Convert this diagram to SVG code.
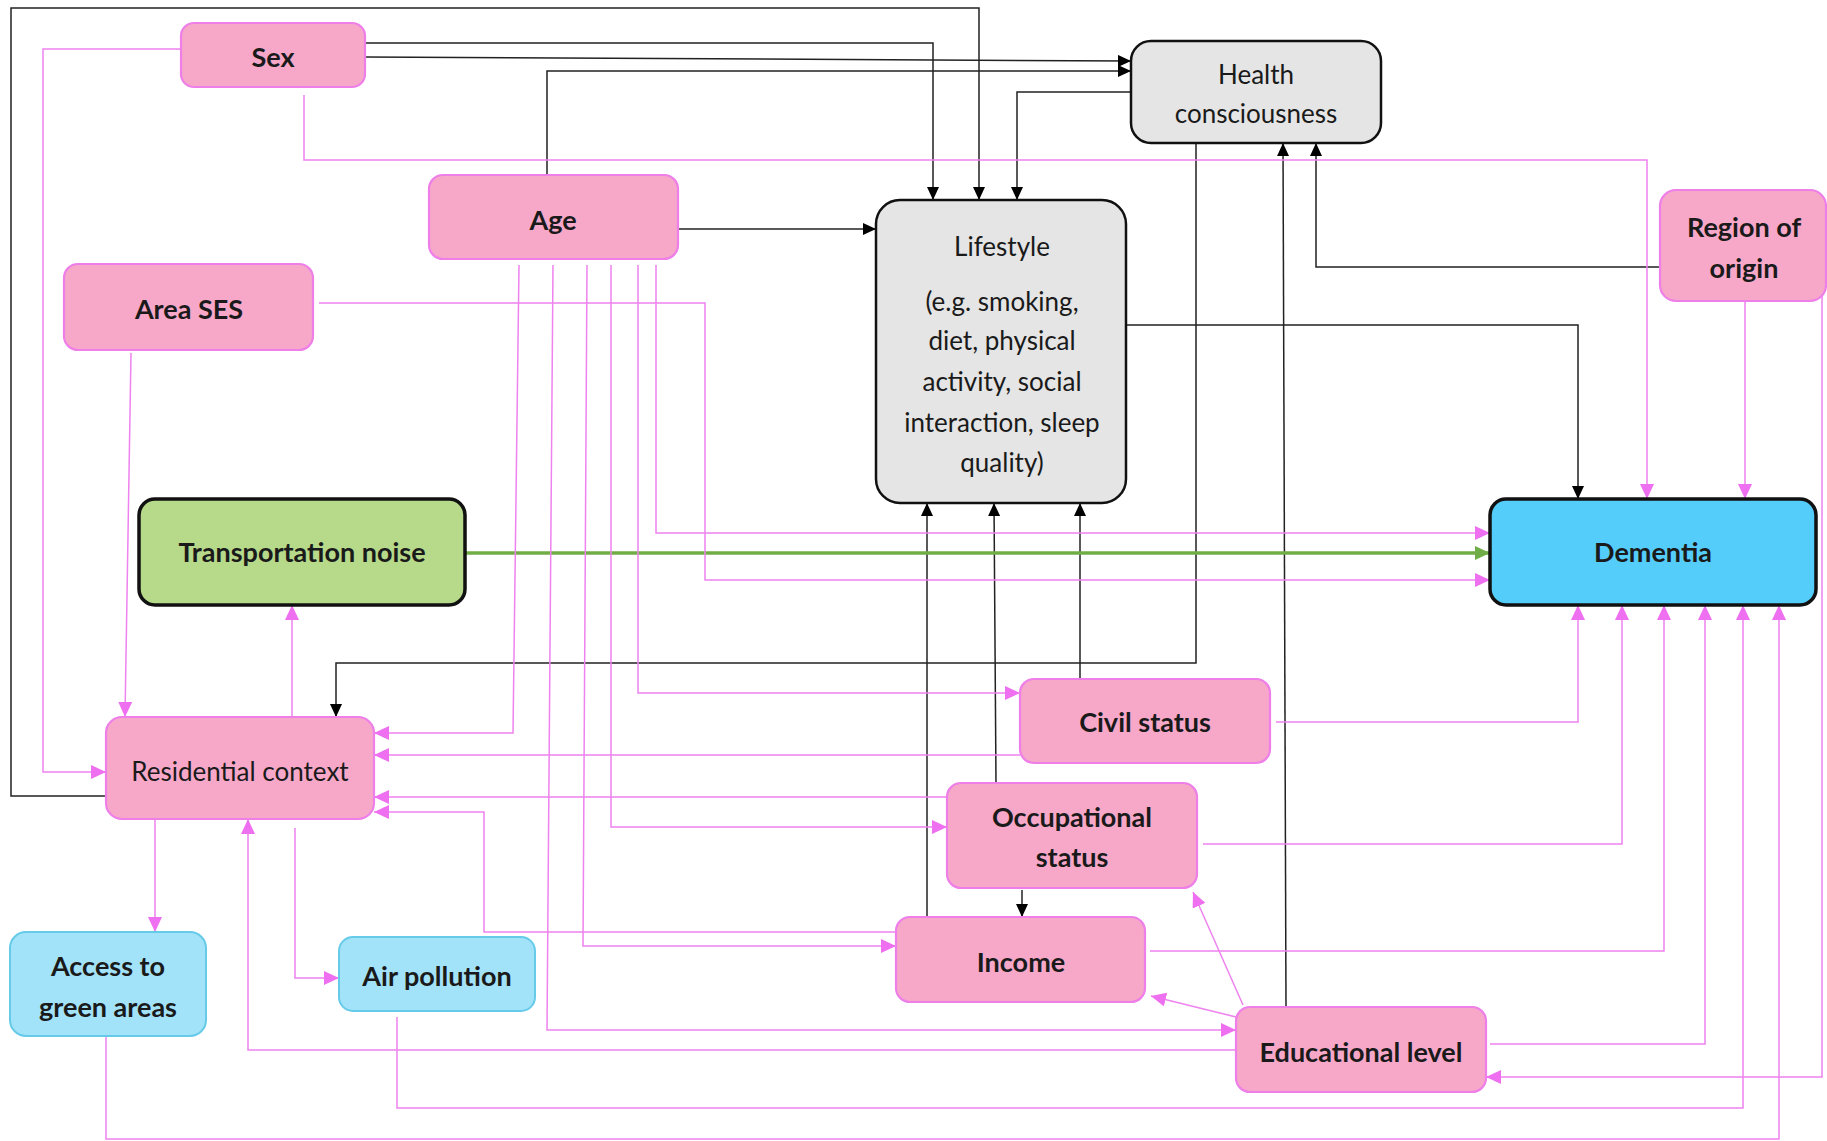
<svg xmlns="http://www.w3.org/2000/svg" width="1827" height="1141" viewBox="0 0 1827 1141">
<style>
.bg{fill:#ffffff}
.pk{fill:#f7a8c9;stroke:#ee7ee8;stroke-width:2.2}
.gr{fill:#e5e5e5;stroke:#111;stroke-width:2.5}
.lb{fill:#a3e3f9;stroke:#66cbe8;stroke-width:2}
.tn{fill:#b6d98a;stroke:#111;stroke-width:3.5}
.dm{fill:#55cdfb;stroke:#111;stroke-width:3.5}
.t{font-family:Lato,"Open Sans","Liberation Sans",sans-serif;font-size:26px;fill:#1a1a1a;text-anchor:middle}
.b{font-weight:bold;font-size:27px}
.cb{fill:none;stroke:#222;stroke-width:1.5;marker-end:url(#ab)}
.cp{fill:none;stroke:#ee82ee;stroke-width:1.5;marker-end:url(#ap)}
.cg{fill:none;stroke:#70ad47;stroke-width:3.5;marker-end:url(#ag)}
</style>
<defs>
<marker id="ab" markerUnits="userSpaceOnUse" markerWidth="13" markerHeight="12" refX="13" refY="6" orient="auto"><path d="M0,0 L13,6 L0,12 z" fill="#000"/></marker>
<marker id="ap" markerUnits="userSpaceOnUse" markerWidth="15" markerHeight="14" refX="15" refY="7" orient="auto"><path d="M0,0 L15,7 L0,14 z" fill="#ee6ff0"/></marker>
<marker id="ag" markerUnits="userSpaceOnUse" markerWidth="15" markerHeight="14" refX="15" refY="7" orient="auto"><path d="M0,0 L15,7 L0,14 z" fill="#70ad47"/></marker>
</defs>
<rect class="bg" x="0" y="0" width="1827" height="1141"/>
<g id="connectors">
<path class="cb" d="M106,796 H11 V8 H979 V200"/>
<path class="cb" d="M365,43 H933 V200"/>
<path class="cb" d="M365,57 L1131,61"/>
<path class="cb" d="M547,175 V71 H1131"/>
<path class="cb" d="M1131,92 H1017 V200"/>
<path class="cb" d="M678,229 H876"/>
<path class="cb" d="M1196,143 V663 H336 V717"/>
<path class="cb" d="M1126,325 H1578 V499"/>
<path class="cb" d="M1286,1007 L1283,143"/>
<path class="cb" d="M1660,267 H1316 V143"/>
<path class="cb" d="M927,917 V503"/>
<path class="cb" d="M996,783 L994,503"/>
<path class="cb" d="M1080,679 V503"/>
<path class="cb" d="M1022,890 V917"/>
<path class="cg" d="M465,553 H1490"/>
<path class="cp" d="M181,49 H43 V772 H106"/>
<path class="cp" d="M304,95 V160 H1647 V499"/>
<path class="cp" d="M1745,301 V499"/>
<path class="cp" d="M1822,290 V1077 H1486"/>
<path class="cp" d="M131,353 L125,717"/>
<path class="cp" d="M319,303 H705 V580 H1490"/>
<path class="cp" d="M656,265 V533 H1490"/>
<path class="cp" d="M638,265 V693 H1020"/>
<path class="cp" d="M611,265 V827 H947"/>
<path class="cp" d="M587,265 L583,946 H896"/>
<path class="cp" d="M553,265 L547,1030 H1236"/>
<path class="cp" d="M519,265 L513,733 H374"/>
<path class="cp" d="M1020,755 H374"/>
<path class="cp" d="M947,797 H374"/>
<path class="cp" d="M896,932 H484 V812 H374"/>
<path class="cp" d="M1236,1050 H248 V819"/>
<path class="cp" d="M155,819 V932"/>
<path class="cp" d="M295,828 V978 H339"/>
<path class="cp" d="M292,717 V605"/>
<path class="cp" d="M1276,722 H1578 V605"/>
<path class="cp" d="M1203,844 H1622 V605"/>
<path class="cp" d="M1150,951 H1664 V605"/>
<path class="cp" d="M1490,1044 H1705 V605"/>
<path class="cp" d="M397,1017 V1108 H1743 V605"/>
<path class="cp" d="M106,1036 V1139 H1779 V605"/>
<path class="cp" d="M1236,1017 L1151,996"/>
<path class="cp" d="M1243,1005 L1193,892"/>
</g>
<g id="sex"><rect class="pk" x="181" y="23" width="184" height="64" rx="13"/><text class="t b" x="273" y="67">Sex</text></g>
<g id="health"><rect class="gr" x="1131" y="41" width="250" height="102" rx="20"/><text class="t" x="1256" y="84">Health</text><text class="t" x="1256" y="123">consciousness</text></g>
<g id="age"><rect class="pk" x="429" y="175" width="249" height="84" rx="14"/><text class="t b" x="553" y="230">Age</text></g>
<g id="lifestyle"><rect class="gr" x="876" y="200" width="250" height="303" rx="24"/>
<text class="t" x="1002" y="256">Lifestyle</text>
<text class="t" x="1002" y="311">(e.g. smoking,</text>
<text class="t" x="1002" y="350">diet, physical</text>
<text class="t" x="1002" y="391">activity, social</text>
<text class="t" x="1002" y="432">interaction, sleep</text>
<text class="t" x="1002" y="472">quality)</text></g>
<g id="region"><rect class="pk" x="1660" y="190" width="166" height="111" rx="16"/><text class="t b" x="1744" y="237">Region of</text><text class="t b" x="1744" y="278">origin</text></g>
<g id="areases"><rect class="pk" x="64" y="264" width="249" height="86" rx="14"/><text class="t b" x="189" y="319">Area SES</text></g>
<g id="noise"><rect class="tn" x="139" y="499" width="326" height="106" rx="16"/><text class="t b" x="302" y="562">Transportation noise</text></g>
<g id="dementia"><rect class="dm" x="1490" y="499" width="326" height="106" rx="16"/><text class="t b" x="1653" y="562">Dementia</text></g>
<g id="civil"><rect class="pk" x="1020" y="679" width="250" height="84" rx="14"/><text class="t b" x="1145" y="732">Civil status</text></g>
<g id="residential"><rect class="pk" x="106" y="717" width="268" height="102" rx="16"/><text class="t" x="240" y="781">Residential context</text></g>
<g id="occupational"><rect class="pk" x="947" y="783" width="250" height="105" rx="14"/><text class="t b" x="1072" y="827">Occupational</text><text class="t b" x="1072" y="867">status</text></g>
<g id="income"><rect class="pk" x="896" y="917" width="249" height="85" rx="14"/><text class="t b" x="1021" y="972">Income</text></g>
<g id="access"><rect class="lb" x="10" y="932" width="196" height="104" rx="16"/><text class="t b" x="108" y="976">Access to</text><text class="t b" x="108" y="1017">green areas</text></g>
<g id="air"><rect class="lb" x="339" y="937" width="196" height="74" rx="14"/><text class="t b" x="437" y="986">Air pollution</text></g>
<g id="education"><rect class="pk" x="1236" y="1007" width="250" height="85" rx="14"/><text class="t b" x="1361" y="1062">Educational level</text></g>
</svg>
